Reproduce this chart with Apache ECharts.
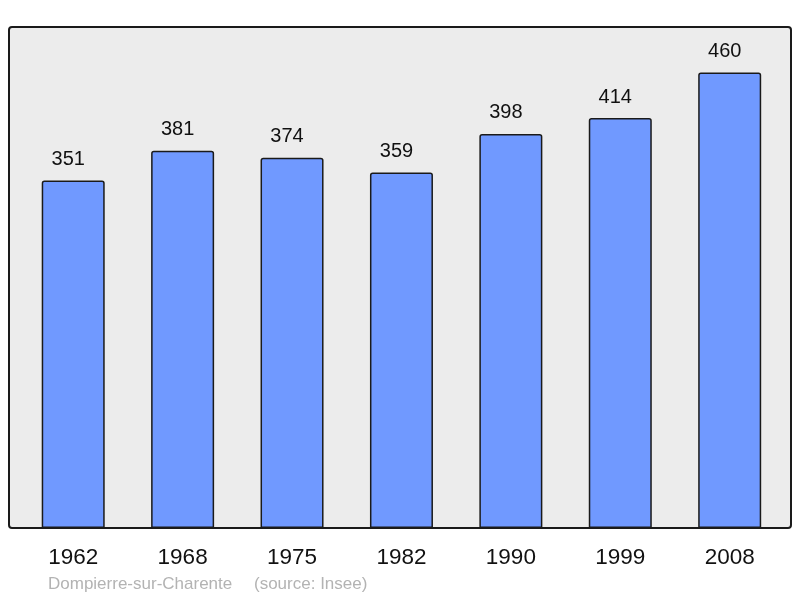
<!DOCTYPE html>
<html>
<head>
<meta charset="utf-8">
<script src="https://cdn.jsdelivr.net/npm/echarts@6/dist/echarts.min.js"></script>
<style>
html,body{margin:0;padding:0;background:#fff;}
#chart{width:800px;height:598px;}
</style>
</head>
<body>
<div id="chart"></div>
<script>
const years = ['1962', '1968', '1975', '1982', '1990', '1999', '2008'];
const population = [351, 381, 374, 359, 398, 414, 460];
const commune = 'Dompierre-sur-Charente';
const source = '(source: Insee)';

const chart = echarts.init(document.getElementById('chart'), null, {renderer: 'canvas'});
chart.setOption({
  backgroundColor: '#ffffff',
  animation: false,
  textStyle: {fontFamily: 'Liberation Sans, Arial, sans-serif'},
  graphic: [
    {
      type: 'rect', z: -10, silent: true,
      shape: {x: 9, y: 27, width: 782, height: 501, r: 3},
      style: {fill: '#ececec', stroke: '#1a1a1a', lineWidth: 2}
    },
    {
      type: 'text', left: 48, top: 576,
      style: {text: commune, fill: '#b3b3b3', font: '17px "Liberation Sans", Arial, sans-serif'}
    },
    {
      type: 'text', left: 254, top: 576,
      style: {text: source, fill: '#b3b3b3', font: '17px "Liberation Sans", Arial, sans-serif'}
    }
  ],
  grid: {left: 18.5, right: 15.6, top: 27, bottom: 70, containLabel: false},
  xAxis: {
    type: 'category',
    data: years,
    axisLine: {show: false},
    axisTick: {show: false},
    axisLabel: {color: '#111', fontSize: 22.5, margin: 18, fontFamily: 'Liberation Sans, Arial, sans-serif'}
  },
  yAxis: {
    type: 'value', min: 0, max: 506,
    show: false,
    splitLine: {show: false}
  },
  series: [{
    type: 'bar',
    data: population,
    barWidth: 63,
    itemStyle: {color: '#7099ff', borderColor: '#1a1a1a', borderWidth: 1.5, borderRadius: [2, 2, 0, 0]},
    label: {show: true, position: 'top', distance: 11, offset: [-5, 0], color: '#111', fontSize: 20, fontFamily: 'Liberation Sans, Arial, sans-serif'}
  }]
});
</script>
</body>
</html>
